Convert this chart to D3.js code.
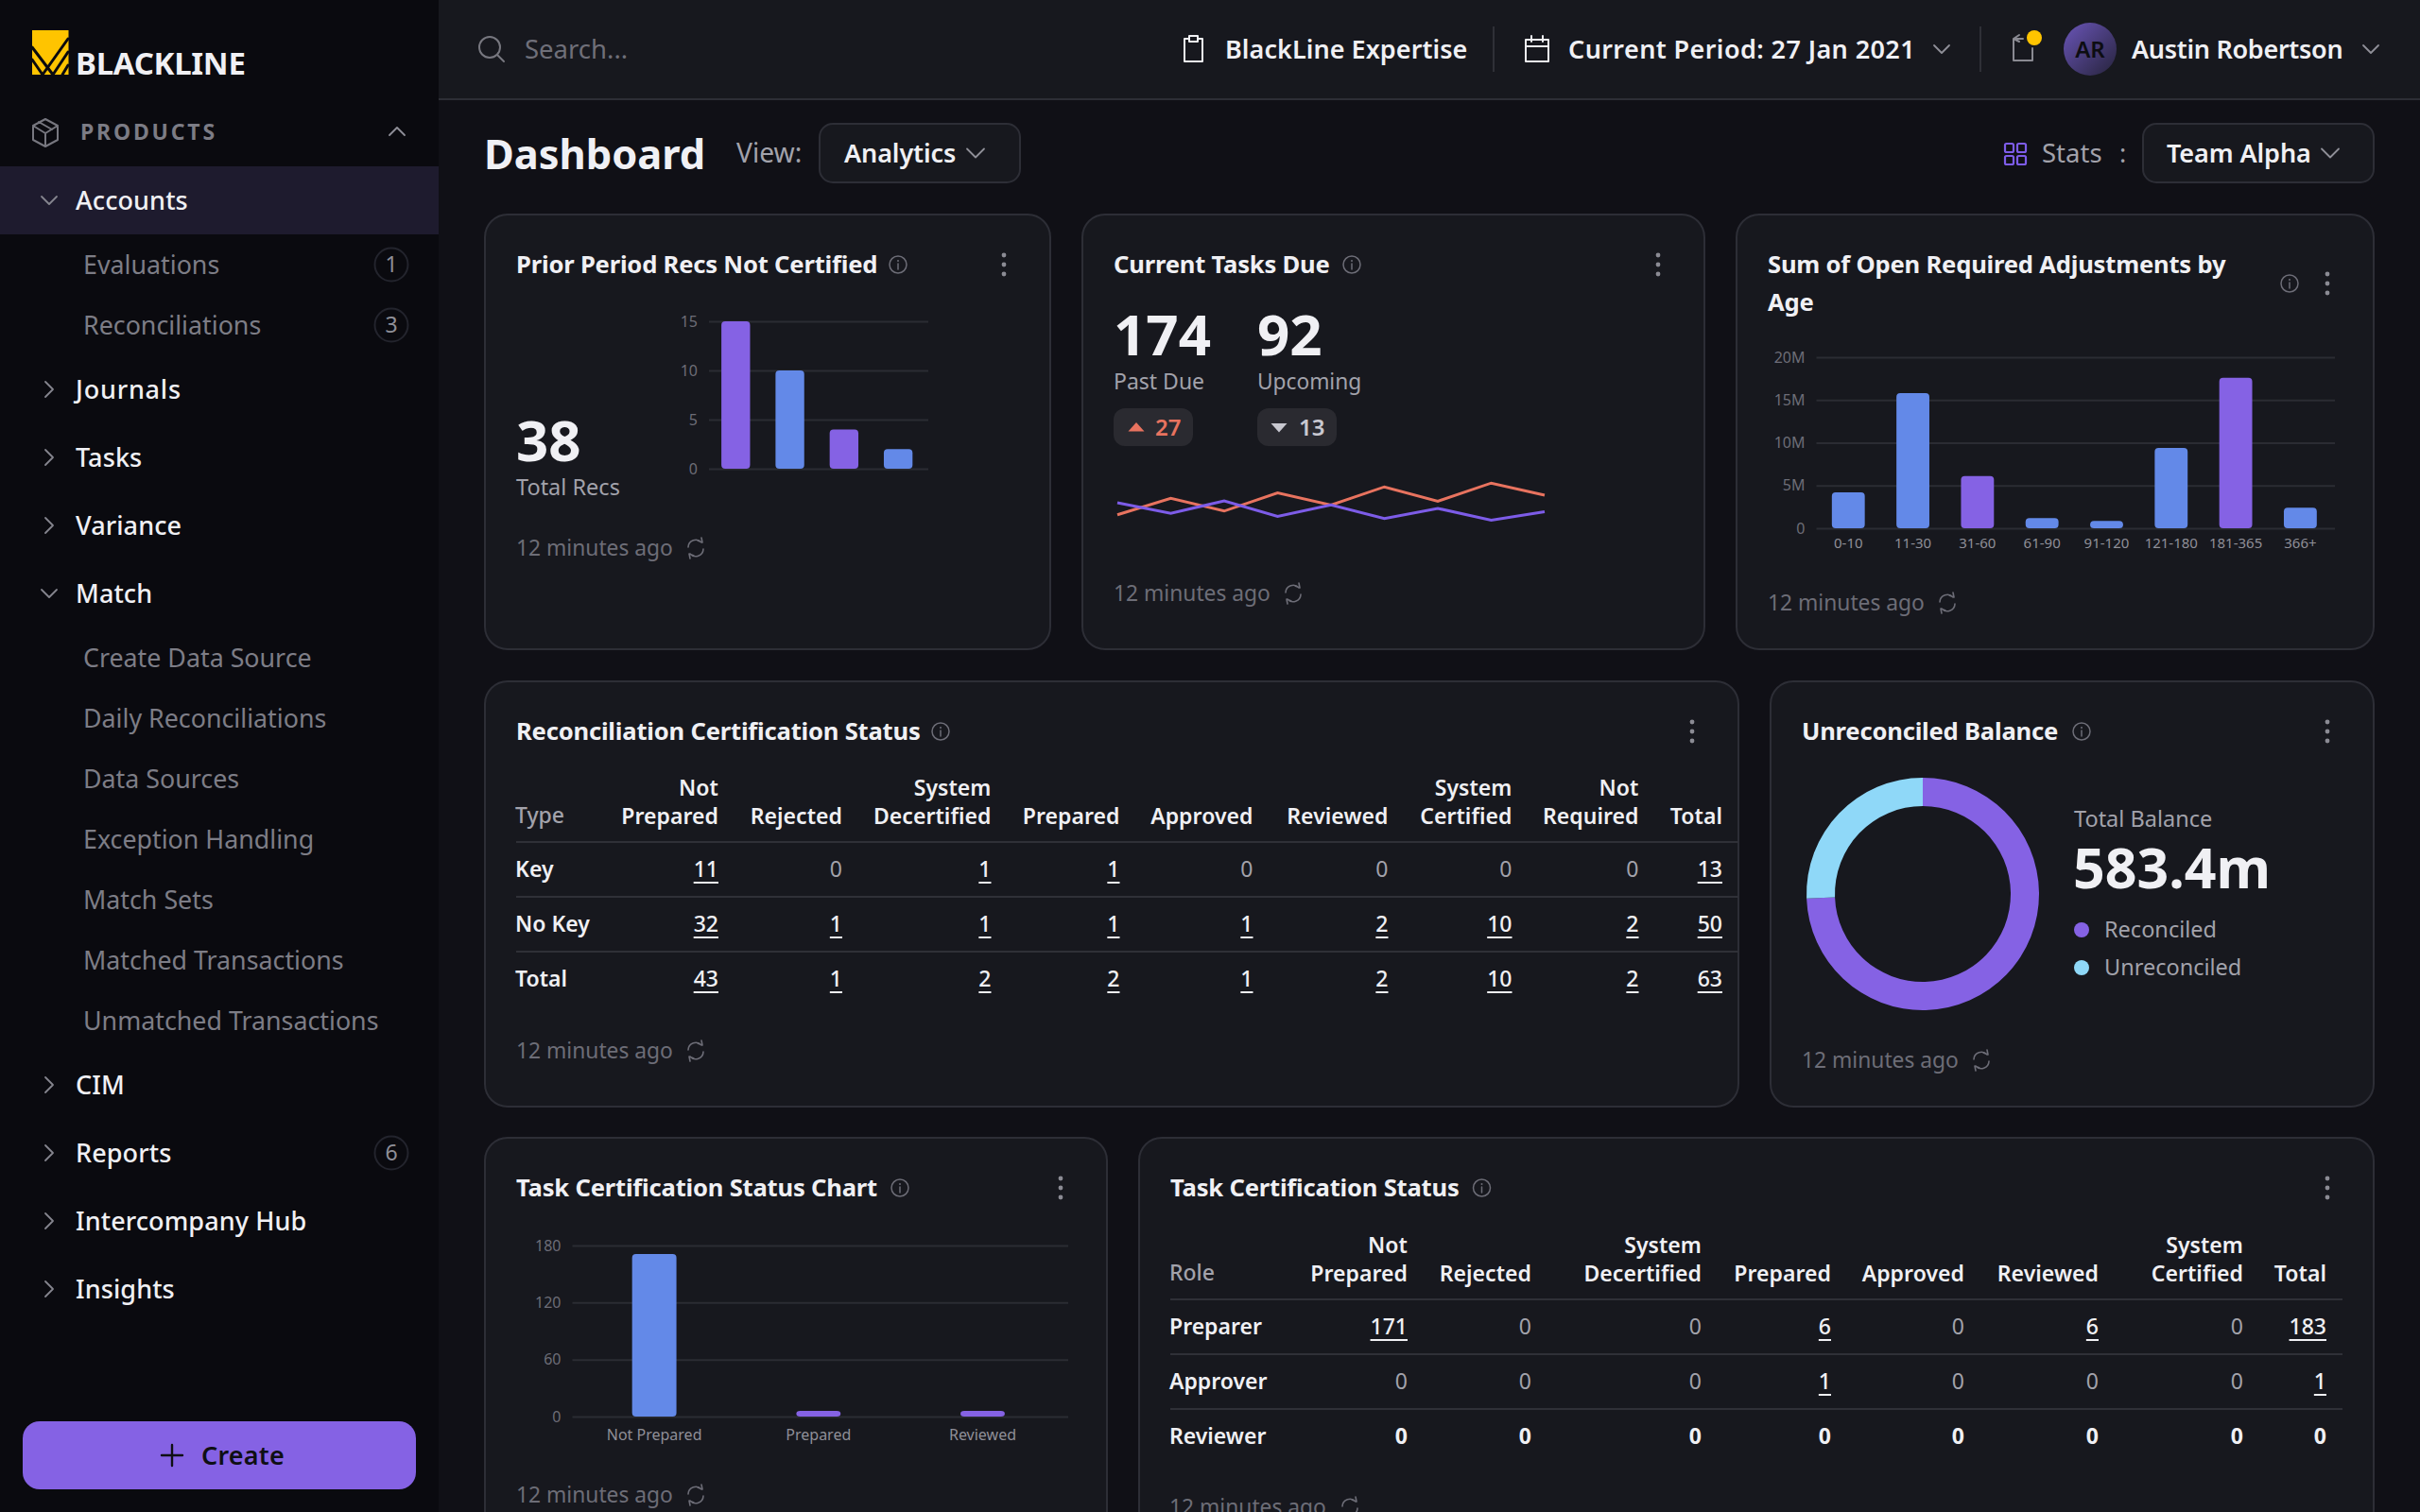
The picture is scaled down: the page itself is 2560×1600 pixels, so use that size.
<!DOCTYPE html>
<html>
<head>
<meta charset="utf-8">
<title>Dashboard</title>
<script src="https://cdn.jsdelivr.net/npm/d3@7"></script>
<style>
  html, body { margin: 0; padding: 0; background: #101016; }
  svg { display: block; }
  text { font-family: "Noto Sans", sans-serif; }
</style>
</head>
<body>
<svg id="page" width="2560" height="1600" viewBox="0 0 2560 1600"></svg>
<script>
"use strict";

// sidebar
var navItems = ["Accounts", "Journals", "Tasks", "Variance", "Match", "CIM", "Reports", "Intercompany Hub", "Insights"];
var navOpen = ["Accounts", "Match"];
var accountsChildren = ["Evaluations", "Reconciliations"];
var accountsBadges = [1, 3];
var matchChildren = ["Create Data Source", "Daily Reconciliations", "Data Sources", "Exception Handling", "Match Sets", "Matched Transactions", "Unmatched Transactions"];

// prior period recs
var priorBuckets = ["A", "B", "C", "D"];
var priorValues = [15, 10, 4, 2];
var priorColors = ["purple", "blue", "purple", "blue"];
var priorTicks = [0, 5, 10, 15];

// current tasks lines
var taskPeriods = [1, 2, 3, 4, 5, 6, 7, 8, 9];
var pastDueTrend = [44, 66, 49, 73, 57, 81, 62, 86, 70];
var upcomingTrend = [60, 46, 62.5, 42, 57, 39, 52.5, 37, 48];

// open required adjustments
var ageBuckets = ["0-10", "11-30", "31-60", "61-90", "91-120", "121-180", "181-365", "366+"];
var ageValues = [4.2, 15.8, 6.1, 1.2, 0.85, 9.4, 17.6, 2.4];
var ageColors = ["blue", "blue", "purple", "blue", "blue", "blue", "purple", "blue"];
var ageTicks = [0, 5, 10, 15, 20];

// reconciliation table
var recHeaders = [["Not", "Prepared"], ["Rejected"], ["System", "Decertified"], ["Prepared"], ["Approved"], ["Reviewed"], ["System", "Certified"], ["Not", "Required"], ["Total"]];
var recRows = ["Key", "No Key", "Total"];
var recKey = [11, 0, 1, 1, 0, 0, 0, 0, 13];
var recNoKey = [32, 1, 1, 1, 1, 2, 10, 2, 50];
var recTotal = [43, 1, 2, 2, 1, 2, 10, 2, 63];

// unreconciled balance
var balanceLabels = ["Reconciled", "Unreconciled"];
var balanceValues = [434, 149.4];

// task chart
var taskStatus = ["Not Prepared", "Prepared", "Reviewed"];
var taskValues = [171, 6, 6];
var taskColors = ["blue", "purple", "purple"];
var taskTicks = [0, 60, 120, 180];

// task table
var roleHeaders = [["Not", "Prepared"], ["Rejected"], ["System", "Decertified"], ["Prepared"], ["Approved"], ["Reviewed"], ["System", "Certified"], ["Total"]];
var roleRows = ["Preparer", "Approver", "Reviewer"];
var rolePreparer = [171, 0, 0, 6, 0, 6, 0, 183];
var roleApprover = [0, 0, 0, 1, 0, 0, 0, 1];
var roleReviewer = [0, 0, 0, 0, 0, 0, 0, 0];

var palette = {
    purple: "#8562e4", blue: "#6389e8", sky: "#8fd8f8", salmon: "#e8735f", line: "#7d5ce8",
    white: "#f0f0f4", soft: "#a2a2ab", dim: "#6d6d77", grid: "#2b2c33", card: "#17181e",
    border: "#2d2e36", side: "#0a0a0f", yellow: "#ffc400"
};

var svg = d3.select("#page");

function label(g, x, y, str, size, color, weight, anchor, spacing) {
    return g.append("text")
        .attr("x", x).attr("y", y)
        .attr("dy", "0.36em")
        .attr("font-size", size)
        .attr("font-weight", weight || 400)
        .attr("fill", color)
        .attr("text-anchor", anchor || "start")
        .attr("letter-spacing", spacing || 0)
        .text(str);
}

function stroke(g, d, color, w) {
    return g.append("path").attr("d", d).attr("fill", "none")
        .attr("stroke", color).attr("stroke-width", w || 2)
        .attr("stroke-linecap", "round").attr("stroke-linejoin", "round");
}

function chevron(g, x, y, dir, color, s) {
    s = s || 7;
    var d = {
        down: "M" + (x - s) + "," + (y - s / 2) + "L" + x + "," + (y + s / 2) + "L" + (x + s) + "," + (y - s / 2),
        up: "M" + (x - s) + "," + (y + s / 2) + "L" + x + "," + (y - s / 2) + "L" + (x + s) + "," + (y + s / 2),
        right: "M" + (x - s / 2) + "," + (y - s) + "L" + (x + s / 2) + "," + y + "L" + (x - s / 2) + "," + (y + s)
    }[dir];
    stroke(g, d, color, 1.8);
}

function infoIcon(g, x, y) {
    g.append("circle").attr("cx", x).attr("cy", y).attr("r", 9).attr("fill", "none").attr("stroke", palette.dim).attr("stroke-width", 1.5);
    stroke(g, "M" + x + "," + (y - 1) + "V" + (y + 5), palette.dim, 1.5);
    g.append("circle").attr("cx", x).attr("cy", y - 4).attr("r", 1).attr("fill", palette.dim);
}

function kebab(g, x, y) {
    [-10, 0, 10].forEach(function(off) {
        g.append("circle").attr("cx", x).attr("cy", y + off).attr("r", 2.4).attr("fill", "#8b8b94");
    });
}

function refresh(g, x, y) {
    var d = "M" + (x - 8) + "," + (y - 1) + "A8,8 0 0 1 " + (x + 6) + "," + (y - 6) +
        "M" + (x + 8) + "," + (y + 1) + "A8,8 0 0 1 " + (x - 6) + "," + (y + 6) +
        "M" + (x + 2) + "," + (y - 8) + "L" + (x + 7) + "," + (y - 6) + "L" + (x + 6) + "," + (y - 11) +
        "M" + (x - 2) + "," + (y + 8) + "L" + (x - 7) + "," + (y + 6) + "L" + (x - 6) + "," + (y + 11);
    stroke(g, d, palette.dim, 1.6);
}

function footer(g, x, y, iconX) {
    label(g, x - 1, y, "12 minutes ago", 22.8, palette.dim);
    refresh(g, iconX, y);
}

function titleText(g, x, y, str) {
    label(g, x - 1, y, str, 25.6, palette.white, 700, "start", -0.2);
}

function card(x0, y0, x1, y1, title, infoX, dotsX) {
    var g = svg.append("g");
    g.append("rect").attr("x", x0).attr("y", y0)
        .attr("width", x1 - x0).attr("height", y1 - y0)
        .attr("rx", 24).attr("fill", palette.card)
        .attr("stroke", palette.border).attr("stroke-width", 2);
    if (title) {
        titleText(g, x0 + 34, y0 + 53, title);
        infoIcon(g, infoX, y0 + 53);
        kebab(g, dotsX, y0 + 53);
    }
    return g;
}

// band/linear pair + gridlines, shared by the three bar charts
function barChart(g, opts) {
    var x = d3.scaleBand().domain(opts.cats).range(opts.xRange)
        .paddingInner(opts.padInner).paddingOuter(opts.padOuter).align(opts.align);
    var y = d3.scaleLinear().domain(opts.domain).range(opts.yRange);

    var yAxis = g.append("g")
        .attr("transform", "translate(" + opts.xRange[0] + ",0)")
        .call(d3.axisLeft(y).tickValues(opts.ticks)
            .tickSize(-(opts.xRange[1] - opts.xRange[0]))
            .tickPadding(12)
            .tickFormat(opts.format || d3.format("d")));
    yAxis.select(".domain").remove();
    yAxis.selectAll("line").attr("stroke", palette.grid).attr("stroke-width", 2);
    yAxis.selectAll("text").attr("fill", palette.dim).attr("font-size", 16)
        .attr("font-family", "\"Noto Sans\", sans-serif");

    if (opts.showCats) {
        var xAxis = g.append("g")
            .attr("transform", "translate(0," + opts.yRange[0] + ")")
            .call(d3.axisBottom(x).tickSize(0).tickPadding(opts.catPad));
        xAxis.select(".domain").remove();
        xAxis.selectAll("text").attr("fill", "#8f8f98").attr("font-size", opts.catSize)
            .attr("font-family", "\"Noto Sans\", sans-serif");
    }

    g.append("g").selectAll("rect")
        .data(opts.cats)
        .enter().append("rect")
        .attr("x", function(d) { return x(d); })
        .attr("y", function(d, i) { return y(opts.values[i]); })
        .attr("width", x.bandwidth())
        .attr("height", function(d, i) { return y(0) - y(opts.values[i]); })
        .attr("rx", 4)
        .attr("fill", function(d, i) { return palette[opts.colors[i]]; });
}

function statusTable(g, opts) {
    opts.rights.forEach(function(right, c) {
        var head = opts.headers[c];
        head.forEach(function(line, i) {
            var yy = head.length === 2 && i === 0 ? opts.headY[0] : opts.headY[1];
            label(g, right, yy, line, 23, palette.white, 600, "end", 0.05);
        });
    });
    label(g, opts.x0 - 1, opts.headY[1] - 1, opts.corner, 23, palette.soft, 500);

    opts.lineY.forEach(function(yy) {
        g.append("line").attr("x1", opts.x0).attr("x2", opts.x1)
            .attr("y1", yy).attr("y2", yy)
            .attr("stroke", "#2f3037").attr("stroke-width", 2);
    });

    opts.rows.forEach(function(rowName, r) {
        var yy = opts.rowY[r];
        label(g, opts.x0 - 1, yy, rowName, 23, palette.white, 600);
        opts.data[r].forEach(function(v, c) {
            var right = opts.rights[c];
            var plain = v === 0 && !opts.boldZero[r];
            var t = label(g, right, yy, v, 23, plain ? palette.soft : palette.white, plain ? 400 : 500, "end");
            if (v !== 0) {
                var w = t.node().getComputedTextLength();
                g.append("line").attr("x1", right - w).attr("x2", right)
                    .attr("y1", yy + 14).attr("y2", yy + 14)
                    .attr("stroke", palette.white).attr("stroke-width", 2);
            }
            if (opts.boldZero[r]) t.attr("font-weight", 700);
        });
    });
}

function drawSidebar() {
    var g = svg.append("g");
    g.append("rect").attr("width", 464).attr("height", 1600).attr("fill", palette.side);

    // logo
    var logo = g.append("g").attr("transform", "translate(34,32)");
    logo.append("path").attr("d", "M0,0H38.5V47H0Z").attr("fill", palette.yellow);
    stroke(logo, "M38,9L11,47M38,23L22,47M0,18L22,47M0,31L11,47M38,37L32,47", palette.side, 3);
    label(g, 80, 67, "BLACKLINE", 33, palette.white, 700, "start", -0.3);

    // products header
    var cube = "M48,126L61,133V148L48,155L35,148V133ZM35,133L48,141L61,133M48,141V155M41,129L55,137";
    stroke(g, cube, "#77777f", 2);
    label(g, 85, 140, "PRODUCTS", 23, "#7c7c85", 700, "start", 2.8);
    chevron(g, 420, 139, "up", "#8f8f98", 8);

    g.append("rect").attr("y", 176).attr("width", 464).attr("height", 72).attr("fill", "#1e1b2e");

    var navY = [212, 412, 484, 556, 628, 1148, 1220, 1292, 1364];
    navItems.forEach(function(name, i) {
        var open = navOpen.indexOf(name) >= 0;
        chevron(g, 52, navY[i], open ? "down" : "right", "#85858e", 8);
        label(g, 80, navY[i], name, 27, palette.white, 500, "start", name === "Journals" ? 0.8 : 0.1);
    });

    function badge(cy, n) {
        g.append("circle").attr("cx", 414).attr("cy", cy).attr("r", 17.5)
            .attr("fill", "none").attr("stroke", "#23242d").attr("stroke-width", 2);
        label(g, 414, cy, n, 23, "#8f8f98", 400, "middle");
    }

    var accY = [280, 344];
    accountsChildren.forEach(function(name, i) {
        label(g, 88, accY[i] + 0.5, name, 26.8, "#7d7d86");
        badge(accY[i], accountsBadges[i]);
    });

    var matchY = [696, 760, 824, 888, 952, 1016, 1080];
    matchChildren.forEach(function(name, i) {
        label(g, 88, matchY[i] + 0.5, name, 26.8, "#7d7d86");
    });
    badge(1220, 6);

    g.append("rect").attr("x", 24).attr("y", 1504).attr("width", 416).attr("height", 72)
        .attr("rx", 18).attr("fill", palette.purple);
    stroke(g, "M171,1540H193M182,1529V1551", "#0f0f14", 2.4);
    label(g, 213, 1540, "Create", 27, "#0f0f14", 600, "start", 0.2);
}

function drawTopBar() {
    var g = svg.append("g");
    g.append("rect").attr("x", 464).attr("width", 2096).attr("height", 105).attr("fill", palette.card);
    g.append("line").attr("x1", 464).attr("x2", 2560).attr("y1", 105).attr("y2", 105)
        .attr("stroke", palette.border).attr("stroke-width", 2);

    g.append("circle").attr("cx", 518).attr("cy", 50).attr("r", 11).attr("fill", "none").attr("stroke", "#77777f").attr("stroke-width", 2);
    stroke(g, "M526,58L533,65", "#77777f", 2);
    label(g, 555, 52, "Search...", 27.5, "#6f6f79");

    // clipboard + calendar outlines
    stroke(g, "M1257,41H1253V65H1272V41H1268M1258,38H1267V44H1258Z", palette.white, 2);
    label(g, 1296, 52, "BlackLine Expertise", 27, palette.white, 600, "start", 0.05);
    g.append("line").attr("x1", 1580).attr("x2", 1580).attr("y1", 28).attr("y2", 76).attr("stroke", "#2f3037").attr("stroke-width", 2);
    stroke(g, "M1614,42H1638V65H1614ZM1614,49H1638M1620,38V44M1632,38V44", palette.white, 2);
    label(g, 1659, 52, "Current Period: 27 Jan 2021", 27, palette.white, 600, "start", 0.4);
    chevron(g, 2054, 52, "down", "#8f8f98", 8);
    g.append("line").attr("x1", 2095).attr("x2", 2095).attr("y1", 28).attr("y2", 76).attr("stroke", "#2f3037").attr("stroke-width", 2);

    stroke(g, "M2140,41H2130V64H2150V51M2136,37L2130,41L2136,44", "#8a8a92", 2);
    g.append("circle").attr("cx", 2152).attr("cy", 40).attr("r", 8).attr("fill", palette.yellow);

    var grad = svg.append("defs").append("linearGradient").attr("id", "avatar")
        .attr("x1", 0).attr("y1", 0).attr("x2", 1).attr("y2", 1);
    grad.append("stop").attr("offset", "0").attr("stop-color", "#6a55b8");
    grad.append("stop").attr("offset", "1").attr("stop-color", "#26233b");
    g.append("circle").attr("cx", 2211).attr("cy", 52).attr("r", 28).attr("fill", "url(#avatar)");
    label(g, 2211, 52, "AR", 24, "#0d0d12", 600, "middle");
    label(g, 2255, 52, "Austin Robertson", 27, palette.white, 600, "start", -0.3);
    chevron(g, 2508, 52, "down", "#8f8f98", 8);
}

function drawPageHeader() {
    var g = svg.append("g");
    label(g, 512, 163, "Dashboard", 43.4, palette.white, 700);
    label(g, 779, 162, "View:", 28.2, palette.soft);

    function dropdown(x0, x1, text, textX, chevX) {
        g.append("rect").attr("x", x0).attr("y", 131).attr("width", x1 - x0).attr("height", 62)
            .attr("rx", 14).attr("fill", palette.card).attr("stroke", palette.border).attr("stroke-width", 2);
        label(g, textX, 162, text, 27, palette.white, 600, "start", -0.1);
        chevron(g, chevX, 162, "down", "#8f8f98", 9);
    }
    dropdown(867, 1079, "Analytics", 893, 1032);
    dropdown(2267, 2511, "Team Alpha", 2292, 2465);

    [[2121, 152], [2134, 152], [2121, 165], [2134, 165]].forEach(function(p) {
        g.append("rect").attr("x", p[0]).attr("y", p[1]).attr("width", 9).attr("height", 9).attr("rx", 1.5)
            .attr("fill", "none").attr("stroke", palette.line).attr("stroke-width", 2.2);
    });
    label(g, 2160, 162, "Stats", 27.5, palette.soft);
    label(g, 2242, 162, ":", 27, palette.soft);
}

function drawPriorPeriod() {
    var g = card(513, 227, 1111, 687, "Prior Period Recs Not Certified", 950, 1062);
    label(g, 546, 466, "38", 60, palette.white, 700);
    label(g, 546, 516, "Total Recs", 23.5, palette.soft);
    footer(g, 547, 580, 736);
    barChart(g, {
        cats: priorBuckets, values: priorValues, colors: priorColors,
        domain: [0, 15], ticks: priorTicks,
        xRange: [750, 982], yRange: [496, 340],
        padInner: 0.47, padOuter: 0.26, align: 0.44
    });
}

function drawCurrentTasks() {
    var g = card(1145, 227, 1803, 687, "Current Tasks Due", 1430, 1754);
    label(g, 1178, 354, "174", 60, palette.white, 700);
    label(g, 1330, 354, "92", 60, palette.white, 700);
    label(g, 1178, 404, "Past Due", 23, palette.soft);
    label(g, 1330, 404, "Upcoming", 22.7, palette.soft);

    g.append("rect").attr("x", 1178).attr("y", 432).attr("width", 84).attr("height", 40).attr("rx", 12).attr("fill", "#2a2a30");
    g.append("rect").attr("x", 1330).attr("y", 432).attr("width", 84).attr("height", 40).attr("rx", 12).attr("fill", "#2a2a30");
    g.append("path").attr("d", "M1193.5,456.5L1202,447L1210.5,456.5Z").attr("fill", palette.salmon);
    g.append("path").attr("d", "M1344.5,448L1353,457.5L1361.5,448Z").attr("fill", "#c8c8d0");
    label(g, 1222, 452, "27", 24, palette.salmon, 600);
    label(g, 1374, 452, "13", 24, "#c8c8d0", 600);

    var x = d3.scalePoint().domain(taskPeriods).range([1182, 1634]);
    var y = d3.scaleLinear().domain([0, 100]).range([580, 500]);
    var line = d3.line().x(function(d, i) { return x(taskPeriods[i]); }).y(function(d) { return y(d); });
    g.append("path").attr("d", line(pastDueTrend)).attr("fill", "none").attr("stroke", palette.salmon).attr("stroke-width", 3);
    g.append("path").attr("d", line(upcomingTrend)).attr("fill", "none").attr("stroke", palette.line).attr("stroke-width", 3);

    footer(g, 1179, 628, 1368);
}

function drawAdjustments() {
    var g = card(1837, 227, 2511, 687, null);
    titleText(g, 1871, 280, "Sum of Open Required Adjustments by");
    titleText(g, 1871, 320, "Age");
    infoIcon(g, 2422, 300);
    kebab(g, 2462, 300);
    barChart(g, {
        cats: ageBuckets, values: ageValues, colors: ageColors,
        domain: [0, 20], ticks: ageTicks,
        format: function(d) { return d === 0 ? "0" : d + "M"; },
        xRange: [1921.5, 2470], yRange: [559, 378],
        padInner: 0.49, padOuter: 0.26, align: 0.46,
        showCats: true, catPad: 10, catSize: 15
    });
    footer(g, 1871, 638, 2060);
}

function drawRecTable() {
    var g = card(513, 721, 1839, 1171, "Reconciliation Certification Status", 995, 1790);
    statusTable(g, {
        x0: 546, x1: 1839,
        headers: recHeaders, rights: [760, 891, 1048.5, 1184.5, 1325.5, 1468.5, 1599.5, 1733.5, 1822],
        headY: [834, 864], corner: "Type",
        lineY: [891, 949, 1007], rowY: [920, 978, 1036],
        rows: recRows, data: [recKey, recNoKey, recTotal], boldZero: [false, false, false]
    });
    footer(g, 547, 1112, 736);
}

function drawBalance() {
    var g = card(1873, 721, 2511, 1171, "Unreconciled Balance", 2202, 2462);
    var pie = d3.pie().sort(null)(balanceValues);
    var arc = d3.arc().innerRadius(93).outerRadius(123);
    var colors = d3.scaleOrdinal().domain(balanceLabels).range([palette.purple, palette.sky]);
    g.append("g").attr("transform", "translate(2034,946)")
        .selectAll("path").data(pie).enter().append("path")
        .attr("d", arc)
        .attr("fill", function(d, i) { return colors(balanceLabels[i]); });

    label(g, 2194, 867, "Total Balance", 23.5, palette.soft);
    label(g, 2193, 919, "583.4m", 59, palette.white, 700);
    var legendY = [984, 1024];
    balanceLabels.forEach(function(name, i) {
        g.append("circle").attr("cx", 2202).attr("cy", legendY[i]).attr("r", 8).attr("fill", colors(name));
        label(g, 2226, legendY[i], name, 23.5, palette.soft);
    });
    footer(g, 1907, 1122, 2096);
}

function drawTaskChart() {
    var g = card(513, 1204, 1171, 1640, "Task Certification Status Chart", 952, 1122);
    barChart(g, {
        cats: taskStatus, values: taskValues, colors: taskColors,
        domain: [0, 180], ticks: taskTicks,
        xRange: [605.5, 1130], yRange: [1499, 1318],
        padInner: 0.73, padOuter: 0.375, align: 0.485,
        showCats: true, catPad: 14, catSize: 16
    });
    footer(g, 547, 1582, 736);
}

function drawRoleTable() {
    var g = card(1205, 1204, 2511, 1640, "Task Certification Status", 1567.5, 2462);
    statusTable(g, {
        x0: 1238, x1: 2478,
        headers: roleHeaders, rights: [1489, 1620, 1800, 1937, 2078, 2220, 2373, 2461],
        headY: [1318, 1348], corner: "Role",
        lineY: [1375, 1433, 1491], rowY: [1404, 1462, 1520],
        rows: roleRows, data: [rolePreparer, roleApprover, roleReviewer], boldZero: [false, false, true]
    });
    footer(g, 1238, 1595, 1428);
}

drawSidebar();
drawTopBar();
drawPageHeader();
drawPriorPeriod();
drawCurrentTasks();
drawAdjustments();
drawRecTable();
drawBalance();
drawTaskChart();
drawRoleTable();
</script>
</body>
</html>
